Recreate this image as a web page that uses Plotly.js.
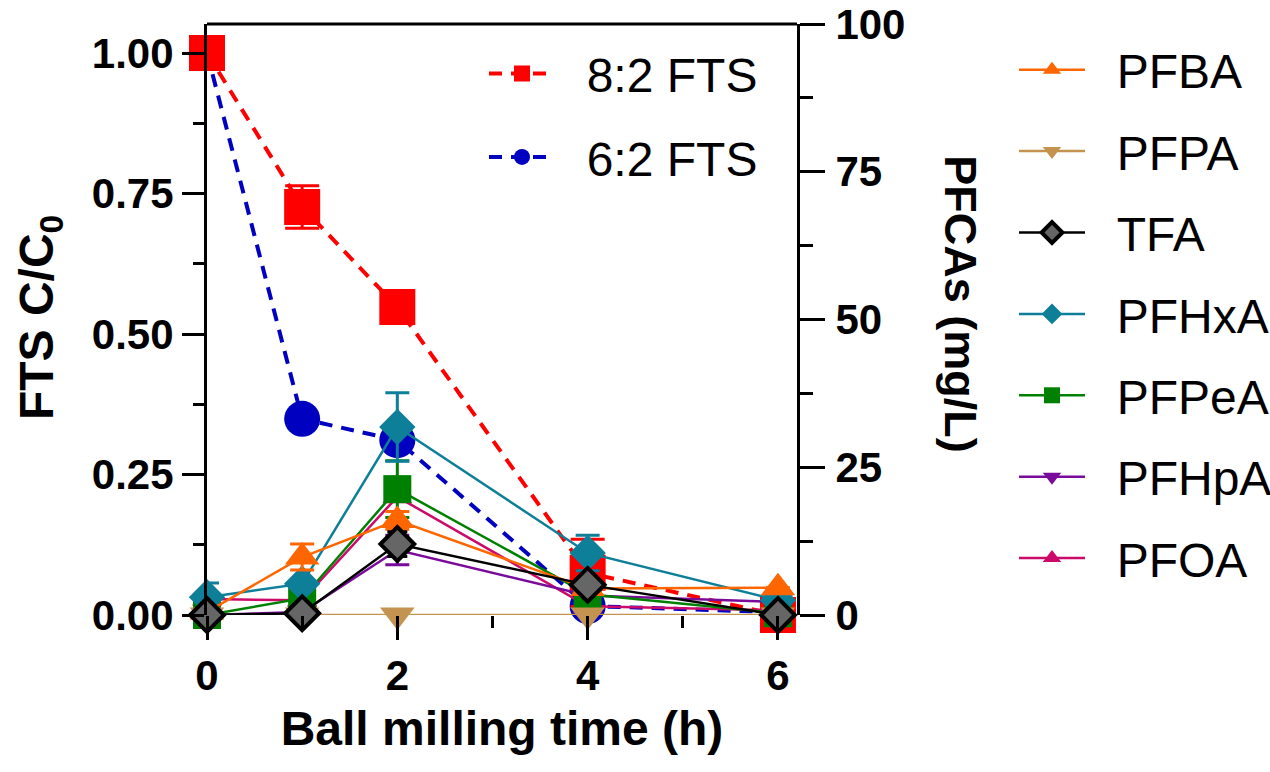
<!DOCTYPE html>
<html>
<head>
<meta charset="utf-8">
<script src="https://cdn.plot.ly/plotly-3.0.1.min.js"></script>
<style>html,body{margin:0;padding:0;background:#fff;}#chart{width:1270px;height:772px;}</style>
</head>
<body>
<div id="chart"></div>
<script>
// ---- data ----
const timeH = [0, 1, 2, 4, 6];

const fts82 = [1.00, 0.726, 0.548, 0.075, 0.00];
const fts82Err = [0, 0.038, 0, 0.06, 0];
const fts62 = [1.00, 0.349, 0.311, 0.016, 0.005];

const pfba = [0.5, 9.8, 16.0, 4.5, 4.6];
const pfbaErr = [0, 2.2, 1.5, 0, 0];
const pfpa = [0, 0, 0, 0, 0];
const tfa = [0, 0.3, 12.0, 5.1, 0];
const tfaErr = [0, 0, 2.1, 0, 0];
const pfhxa = [3.0, 5.3, 31.8, 10.5, 2.5];
const pfhxaErr = [2.4, 0, 5.8, 3.0, 0];
const pfpea = [0, 2.8, 21.3, 3.5, 0.3];
const pfpeaErr = [0, 0, 4.8, 0, 0];
const pfhpa = [0, 0.5, 11.0, 3.3, 2.2];
const pfhpaErr = [0, 0, 2.5, 0, 0];
const pfoa = [2.7, 2.5, 20.0, 1.5, 0.8];

const xTickVals = [0, 2, 4, 6];
const yLeftTicks = [0, 0.25, 0.5, 0.75, 1.0];
const yRightTicks = [0, 25, 50, 75, 100];

// ---- styling ----
const FONT = '"Liberation Sans", Arial, sans-serif';
const GAP = '\u00a0\u00a0';

function errY(arr, color, w) {
  return {type: 'data', array: arr, visible: true, color: color, thickness: 3, width: w};
}

function pfca(name, y, rank, color, symbol, size, err, extra) {
  const t = {x: timeH, y: y, name: GAP + name, yaxis: 'y2', legend: 'legend2',
    legendrank: rank, legendgroup: 'g' + rank,
    mode: 'lines+markers', cliponaxis: false,
    line: {color: color, width: 2.5},
    marker: {symbol: symbol, size: size, color: color}};
  if (err) t.error_y = errY(err, color, 12);
  return Object.assign(t, extra || {});
}

const traces = [
  // FTS on left axis (drawn underneath)
  {x: timeH, y: fts62, name: GAP + '6:2 FTS', yaxis: 'y', legend: 'legend', legendrank: 2, legendgroup: 'f2',
   mode: 'lines+markers', cliponaxis: false,
   line: {color: '#0000C0', width: 4, dash: '13px,9px'},
   marker: {symbol: 'circle', size: 36, color: '#0000C0'}},
  {x: timeH, y: fts82, name: GAP + '8:2 FTS', yaxis: 'y', legend: 'legend', legendrank: 1, legendgroup: 'f1',
   mode: 'lines+markers', cliponaxis: false,
   line: {color: '#FF0000', width: 4, dash: '13px,9px'},
   marker: {symbol: 'square', size: 36, color: '#FF0000'},
   error_y: errY(fts82Err, '#FF0000', 17)},
  // PFCAs on right axis
  pfca('PFOA', pfoa, 7, '#CC0A6A', 'triangle-up', 26, null),
  pfca('PFHpA', pfhpa, 6, '#7A0A9A', 'triangle-down', 26, pfhpaErr),
  pfca('PFPeA', pfpea, 5, '#008000', 'square', 28, pfpeaErr),
  pfca('PFHxA', pfhxa, 4, '#0E7F99', 'diamond', 28, pfhxaErr),
  pfca('PFBA', pfba, 1, '#FF6600', 'triangle-up', 30, pfbaErr),
  pfca('PFPA', pfpa, 2, '#C4934F', 'triangle-down', 30, null),
  pfca('TFA', tfa, 3, '#000000', 'diamond', 26, null, {
    marker: {symbol: 'diamond', size: 26, color: '#666666', line: {color: '#000000', width: 4}},
    error_y: errY(tfaErr, '#000000', 10)})
];

const tickFont = {family: FONT, size: 42, color: '#000', weight: 'bold'};
const titleFont = {family: FONT, size: 48, color: '#000', weight: 'bold'};
const legendFont = {family: FONT, size: 48, color: '#000'};

const layout = {
  width: 1270, height: 772,
  margin: {l: 207, r: 473, t: 24, b: 157, autoexpand: false},
  paper_bgcolor: '#fff', plot_bgcolor: 'rgba(0,0,0,0)',
  showlegend: true,
  font: {family: FONT, color: '#000'},
  xaxis: {
    range: [0, 6.2], tickvals: xTickVals, ticks: 'outside', ticklen: 24, tickwidth: 3, tickcolor: '#000',
    minor: {dtick: 1, tick0: 0, ticks: 'outside', ticklen: 12, tickwidth: 3, tickcolor: '#000'},
    showline: false, showgrid: false, zeroline: false,
    tickfont: tickFont,
    title: {text: 'Ball milling time (h)', font: titleFont, standoff: 12},
    automargin: false
  },
  yaxis: {
    range: [0, 1.0516], tickvals: yLeftTicks, tickformat: '.2f',
    ticks: 'outside', ticklen: 22, tickwidth: 3, tickcolor: '#000',
    minor: {dtick: 0.125, tick0: 0, ticks: 'outside', ticklen: 11, tickwidth: 3, tickcolor: '#000'},
    showline: true, linewidth: 3, linecolor: '#000',
    showgrid: false, zeroline: false,
    tickfont: tickFont,
    automargin: false
  },
  yaxis2: {
    overlaying: 'y', side: 'right',
    range: [0, 100], tickvals: yRightTicks,
    ticks: 'outside', ticklen: 25, tickwidth: 3, tickcolor: '#000',
    ticklabelstandoff: 2,
    minor: {dtick: 12.5, tick0: 0, ticks: 'outside', ticklen: 13, tickwidth: 3, tickcolor: '#000'},
    showline: true, linewidth: 3, linecolor: '#000',
    showgrid: false, zeroline: false,
    tickfont: tickFont,
    automargin: false
  },
  legend: {
    x: 0.4695, xanchor: 'left', y: 0.98, yanchor: 'top',
    bgcolor: 'rgba(0,0,0,0)', borderwidth: 0,
    font: legendFont,
    traceorder: 'grouped', itemwidth: 66, tracegroupgap: 18,
    itemclick: false, itemdoubleclick: false
  },
  legend2: {
    x: 1.3678, xanchor: 'left', y: 0.9865, yanchor: 'top',
    bgcolor: 'rgba(0,0,0,0)', borderwidth: 0,
    font: legendFont,
    traceorder: 'grouped', itemwidth: 66, tracegroupgap: 16,
    itemclick: false, itemdoubleclick: false
  },
  shapes: [
    {type: 'line', xref: 'paper', yref: 'paper', x0: 0, x1: 1, y0: 1, y1: 1,
     line: {color: '#000', width: 3}}
  ],
  annotations: [
    {text: 'FTS C/C<sub>0</sub>', xref: 'paper', yref: 'paper', x: -0.283, y: 0.5025,
     textangle: -90, showarrow: false, xanchor: 'center', yanchor: 'middle',
     font: titleFont},
    {text: 'PFCAs (mg/L)', xref: 'paper', yref: 'paper', x: 1.277, y: 0.525,
     textangle: 90, showarrow: false, xanchor: 'center', yanchor: 'middle',
     font: {family: FONT, size: 45, color: '#000', weight: 'bold'}}
  ]
};

Plotly.newPlot('chart', traces, layout, {staticPlot: true, displayModeBar: false});
</script>
</body>
</html>
